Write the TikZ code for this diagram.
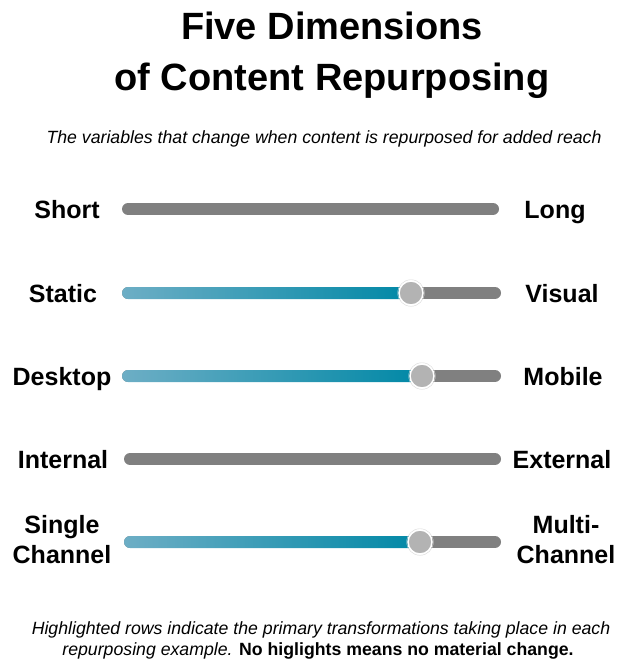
\documentclass[tikz,border=0pt]{standalone}
\usepackage{fontspec}
\setmainfont{Liberation Sans}
\usetikzlibrary{positioning}
\definecolor{trackgray}{HTML}{808080}
\definecolor{lightteal}{HTML}{6DAEC5}
\definecolor{darkteal}{HTML}{0088A6}
\definecolor{knobgray}{HTML}{B3B3B3}
\tikzstyle{title} = [font=\fontsize{38}{46}\selectfont\bfseries, anchor=base]
\tikzstyle{note} = [font=\fontsize{17.7}{21}\selectfont\itshape, anchor=base]
\tikzstyle{dimlabel} = [font=\fontsize{25}{30}\selectfont\bfseries,
    align=center, inner sep=0pt, anchor=base]
\tikzstyle{pair} = [dimlabel, anchor=north]
\tikzstyle{trackbar} = [draw=trackgray, line width=12pt, line cap=round]
\tikzstyle{knob} = [circle, fill=knobgray, draw=white, line width=1.5pt,
    minimum size=24pt, inner sep=0pt]

\begin{document}
\begin{tikzpicture}[x=1pt, y=-1pt]
  \useasboundingbox (0,0) rectangle (618,661);
  % Title and subtitle
  \node [title] (title1) at (332,40) {Five Dimensions};
  \node [title] (title2) at (332,90) {of Content Repurposing};
  \node [note] (subtitle) at (324,143)
  {The variables that change when content is repurposed for added reach};
  % Row labels
  \node [dimlabel] (short) at (67,218) {Short};
  \node [dimlabel] (long) at (555,218) {Long};
  \node [dimlabel] (static) at (63,302) {Static};
  \node [dimlabel] (visual) at (562,302) {Visual};
  \node [dimlabel] (desktop) at (62,385) {Desktop};
  \node [dimlabel] (mobile) at (563,385) {Mobile};
  \node [dimlabel] (internal) at (63,468) {Internal};
  \node [dimlabel] (external) at (562,468) {External};
  \node [pair] (single) at (62,515) {Single\\Channel};
  \node [pair] (multi) at (566,515) {Multi-\\Channel};
  % Track ends
  \coordinate (s1) at (128,209); \coordinate (e1) at (493,209);
  \coordinate (s2) at (128,293); \coordinate (e2) at (495,293);
  \coordinate (s3) at (128,376); \coordinate (e3) at (495,376);
  \coordinate (s4) at (130,459); \coordinate (e4) at (495,459);
  \coordinate (s5) at (130,542); \coordinate (e5) at (495,542);
  % Tracks
  \foreach \i in {1,...,5}
    \draw [trackbar] (s\i) -- (e\i);
  % Highlighted parts
  \shade [left color=lightteal, right color=darkteal, rounded corners=6pt]
    (122,287) rectangle (411,299);
  \shade [left color=lightteal, right color=darkteal, rounded corners=6pt]
    (122,370) rectangle (422,382);
  \shade [left color=lightteal, right color=darkteal, rounded corners=6pt]
    (124,536) rectangle (420,548);
  % Knobs
  \node [knob] (k2) at (411,293) {};
  \node [knob] (k3) at (422,376) {};
  \node [knob] (k5) at (420,542) {};
  \foreach \k in {k2,k3,k5}
    \draw [gray!30, line width=0.4pt] (\k) circle (13.3pt);
  % Footnote
  \node [note] (foot1) at (321,634)
  {Highlighted rows indicate the primary transformations taking place in each};
  \node [note] (foot2) at (318,655)
  {repurposing example. \textbf{\upshape No higlights means no material change.}};
\end{tikzpicture}
\end{document}
